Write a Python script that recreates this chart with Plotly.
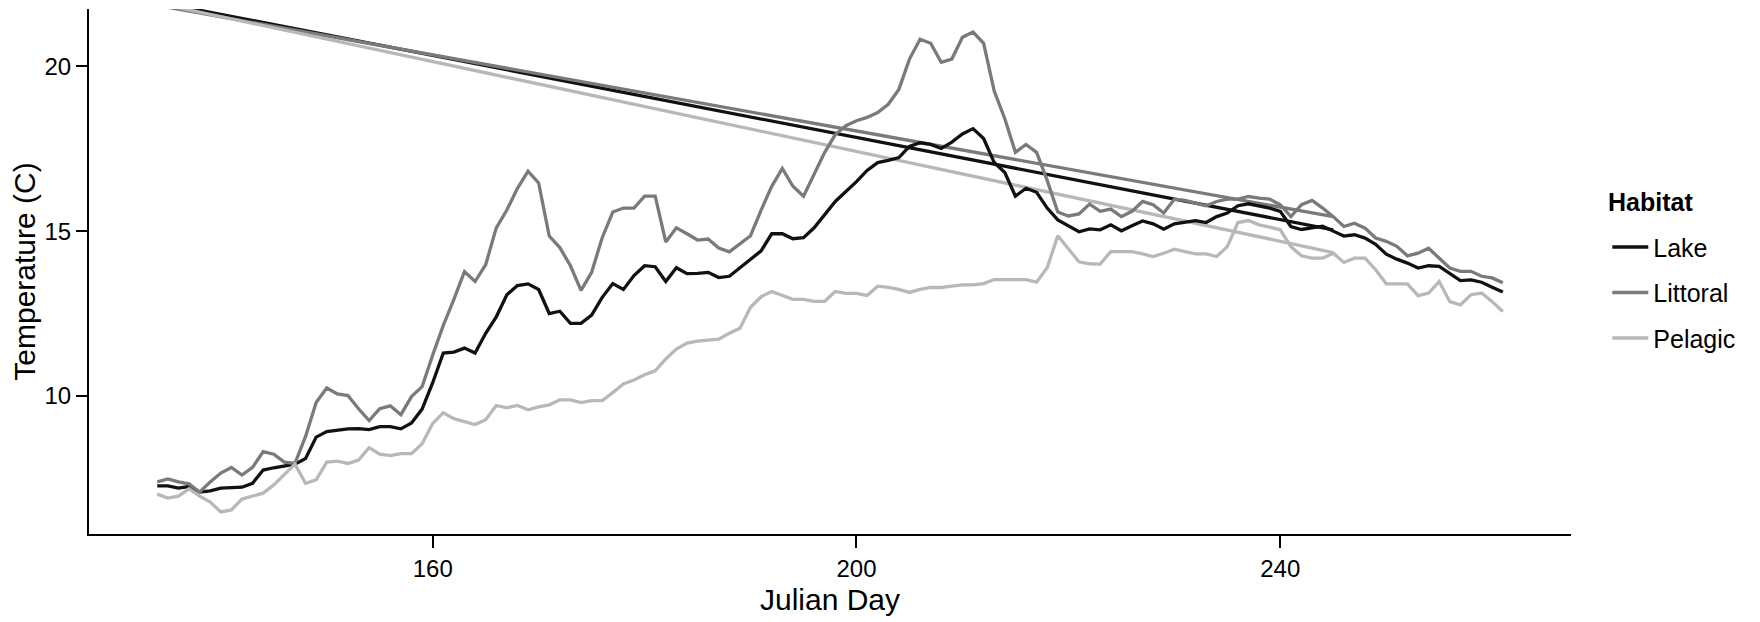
import plotly.graph_objects as go

days = list(range(134, 262))

lake = [7.27, 7.27, 7.2, 7.25, 7.08, 7.12, 7.2, 7.22, 7.23, 7.35, 7.75, 7.82, 7.88, 7.93, 8.1, 8.75,
        8.92, 8.97, 9.0, 9.01, 8.98, 9.07, 9.07, 9.0, 9.18, 9.6, 10.4, 11.3, 11.33, 11.45, 11.3, 11.9,
        12.4, 13.07, 13.35, 13.4, 13.23, 12.5, 12.57, 12.2, 12.2, 12.45, 12.99, 13.41, 13.23, 13.65,
        13.95, 13.92, 13.47, 13.89, 13.71, 13.72, 13.75, 13.59, 13.63, 13.89, 14.15, 14.4, 14.92, 14.92,
        14.77, 14.8, 15.1, 15.5, 15.9, 16.2, 16.5, 16.84, 17.08, 17.15, 17.23, 17.57, 17.68, 17.63,
        17.51, 17.7, 17.95, 18.11, 17.81, 17.08, 16.78, 16.06, 16.3, 16.18, 15.7, 15.34, 15.16, 14.98,
        15.07, 15.04, 15.19, 15.01, 15.16, 15.31, 15.22, 15.06, 15.22, 15.26, 15.32, 15.26, 15.44,
        15.55, 15.77, 15.83, 15.77, 15.7, 15.6, 15.14, 15.05, 15.11, 15.15, 15.0, 14.85, 14.89, 14.79,
        14.6, 14.3, 14.15, 14.03, 13.88, 13.95, 13.93, 13.7, 13.5, 13.52, 13.45, 13.3, 13.15]

littoral = [7.39, 7.48, 7.39, 7.33, 7.08, 7.39, 7.66, 7.83, 7.6, 7.83, 8.31, 8.23, 7.99, 7.95, 8.77,
            9.8, 10.24, 10.06, 10.01, 9.61, 9.25, 9.61, 9.7, 9.43, 9.98, 10.28, 11.24, 12.14, 12.93,
            13.77, 13.47, 13.98, 15.1, 15.64, 16.3, 16.82, 16.46, 14.85, 14.5, 13.95, 13.2, 13.75, 14.8,
            15.58, 15.7, 15.7, 16.06, 16.06, 14.67, 15.1, 14.92, 14.73, 14.76, 14.49, 14.37, 14.61,
            14.86, 15.64, 16.36, 16.9, 16.36, 16.06, 16.72, 17.39, 17.93, 18.2, 18.35, 18.45, 18.6,
            18.85, 19.3, 20.22, 20.82, 20.7, 20.12, 20.22, 20.88, 21.04, 20.7, 19.25, 18.41, 17.39,
            17.63, 17.39, 16.54, 15.58, 15.46, 15.52, 15.82, 15.6, 15.67, 15.44, 15.6, 15.9, 15.8,
            15.55, 15.97, 15.93, 15.85, 15.77, 15.9, 15.97, 15.97, 16.05, 16.0, 15.97, 15.8, 15.44,
            15.8, 15.93, 15.7, 15.44, 15.14, 15.24, 15.09, 14.79, 14.69, 14.54, 14.25, 14.33, 14.48,
            14.18, 13.88, 13.78, 13.78, 13.63, 13.58, 13.43]

pelagic = [7.02, 6.9, 6.96, 7.18, 6.96, 6.78, 6.48, 6.54, 6.87, 6.96, 7.05, 7.3, 7.63, 7.93, 7.35,
           7.45, 7.99, 8.02, 7.95, 8.05, 8.43, 8.23, 8.19, 8.25, 8.25, 8.55, 9.16, 9.49, 9.31, 9.23,
           9.13, 9.28, 9.71, 9.64, 9.71, 9.58, 9.67, 9.73, 9.88, 9.88, 9.8, 9.86, 9.86, 10.1, 10.36,
           10.48, 10.64, 10.76, 11.12, 11.42, 11.6, 11.66, 11.69, 11.72, 11.9, 12.05, 12.69, 13.01,
           13.17, 13.05, 12.93, 12.93, 12.87, 12.87, 13.17, 13.11, 13.11, 13.05, 13.33, 13.29, 13.23,
           13.14, 13.23, 13.29, 13.29, 13.33, 13.37, 13.37, 13.41, 13.53, 13.53, 13.53, 13.53, 13.45,
           13.89, 14.86, 14.46, 14.07, 14.01, 14.0, 14.38, 14.38, 14.38, 14.31, 14.23, 14.33, 14.45,
           14.38, 14.31, 14.31, 14.23, 14.53, 15.26, 15.32, 15.19, 15.12, 15.04, 14.53, 14.25, 14.18,
           14.18, 14.33, 14.05, 14.18, 14.18, 13.83, 13.4, 13.4, 13.4, 13.04, 13.12, 13.47, 12.86,
           12.76, 13.07, 13.12, 12.86, 12.56]

habitats = ["Lake", "Littoral", "Pelagic"]
series = [lake, littoral, pelagic]
colors = ["#111111", "#7a7a7a", "#b8b8b8"]

# straight trend lines: value at start day and end day
trend_days = [130, 245]
trend_lake = [22.20, 15.04]
trend_littoral = [22.08, 15.44]
trend_pelagic = [22.19, 14.35]
trends = [trend_lake, trend_littoral, trend_pelagic]

x_ticks = [160, 200, 240]
y_ticks = [10, 15, 20]

fig = go.Figure()

for name, tr, col in zip(habitats, trends, colors):
    fig.add_trace(go.Scatter(x=trend_days, y=tr, mode="lines", showlegend=False,
                             line=dict(color=col, width=3.3), hoverinfo="skip"))

for name, ys, col in zip(habitats, series, colors):
    fig.add_trace(go.Scatter(x=days, y=ys, mode="lines", name=name, legendgroup=name,
                             line=dict(color=col, width=3.3)))

font_family = "Liberation Sans, Arial, sans-serif"

fig.update_layout(
    width=1760, height=622,
    margin=dict(l=89, r=189, t=9, b=88),
    plot_bgcolor="white", paper_bgcolor="white",
    font=dict(family=font_family, size=24, color="black"),
    showlegend=True,
    legend=dict(
        font=dict(size=25),
        x=1.0245, xanchor="left", y=0.59, yanchor="top",
        traceorder="grouped", tracegroupgap=10,
        itemwidth=36,
        bgcolor="rgba(0,0,0,0)",
    ),
    annotations=[dict(
        text="<b>Habitat</b>", xref="paper", yref="paper",
        x=1.0236, xanchor="left", y=0.632, yanchor="middle",
        showarrow=False, font=dict(size=25, family=font_family, color="black"),
    )],
    xaxis=dict(
        range=[127.56, 267.44], tickvals=x_ticks, showgrid=False, zeroline=False,
        showline=True, linecolor="black", linewidth=2,
        ticks="outside", ticklen=12, tickwidth=2, tickcolor="black",
        tickfont=dict(size=24),
        title=dict(text="Julian Day", font=dict(size=30), standoff=8),
    ),
    yaxis=dict(
        range=[5.81, 21.74], tickvals=y_ticks, showgrid=False, zeroline=False,
        showline=True, linecolor="black", linewidth=2,
        ticks="outside", ticklen=11, tickwidth=2, tickcolor="black",
        tickfont=dict(size=24),
        title=dict(text="Temperature (C)", font=dict(size=30), standoff=0),
    ),
)

fig.write_html("out.html")
